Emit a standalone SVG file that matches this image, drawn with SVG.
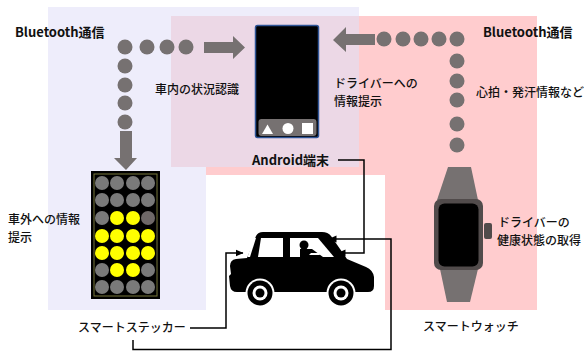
<svg xmlns="http://www.w3.org/2000/svg" width="584" height="351" viewBox="0 0 584 351">
  <style>
    .lbl { font-family: "Noto Sans CJK JP", "Noto Sans", sans-serif; font-size: 12px; fill: #111; font-weight: 500; }
    .bold { font-family: "Noto Sans CJK JP", "Noto Sans", sans-serif; font-size: 13px; fill: #111; font-weight: bold; }
    .dot { fill: #767171; }
    .gray { fill: #767171; }
    .conn { fill: none; stroke: #000; stroke-width: 1.5; }
    .led-off { fill: #7a7a7a; }
    .led-on { fill: #ffff00; }
  </style>
  <defs>
    <marker id="arrow" markerUnits="userSpaceOnUse" markerWidth="8" markerHeight="8" viewBox="0 0 8 8" refX="7.5" refY="4" orient="auto">
      <path d="M0,0.5 L8,4 L0,7.5 Z" fill="#000"/>
    </marker>
  </defs>

  <!-- background zones -->
  <g id="zones">
    <rect width="584" height="351" fill="#fff"/>
    <path d="M48,7 H359 V167 H206 V310 H48 Z" fill="#eeedfb"/>
    <path d="M171,16 H537 V310 H206 V167 H171 Z" fill="#ffccce"/>
    <rect x="171" y="16" width="188" height="151" fill="#ecd8e6"/>
    <rect x="206" y="175" width="179" height="176" fill="#fff"/>
  </g>

  <!-- Bluetooth link: sticker side -->
  <g id="link-left">
    <circle class="dot" cx="125" cy="47" r="7.5"/>
    <circle class="dot" cx="147" cy="47" r="7.5"/>
    <circle class="dot" cx="167" cy="47" r="7.5"/>
    <circle class="dot" cx="186" cy="47" r="7.5"/>
    <circle class="dot" cx="125" cy="66" r="7.5"/>
    <circle class="dot" cx="125" cy="85" r="7.5"/>
    <circle class="dot" cx="125" cy="103" r="7.5"/>
    <circle class="dot" cx="125" cy="122" r="7.5"/>
    <path class="gray" d="M204,42 H233 V36 L245,47.5 L233,59 V53 H204 Z"/>
    <path class="gray" d="M120,131 H132 V158 H137 L126,170 L114,158 H120 Z"/>
    <text class="bold" x="15" y="37">Bluetooth通信</text>
    <text class="lbl" x="155" y="94">車内の状況認識</text>
  </g>

  <!-- Bluetooth link: watch side -->
  <g id="link-right">
    <circle class="dot" cx="384" cy="39" r="7.5"/>
    <circle class="dot" cx="403" cy="39" r="7.5"/>
    <circle class="dot" cx="421" cy="39" r="7.5"/>
    <circle class="dot" cx="439" cy="39" r="7.5"/>
    <circle class="dot" cx="457" cy="39" r="7.5"/>
    <circle class="dot" cx="457" cy="61" r="7.5"/>
    <circle class="dot" cx="457" cy="81" r="7.5"/>
    <circle class="dot" cx="457" cy="100" r="7.5"/>
    <circle class="dot" cx="457" cy="124" r="7.5"/>
    <circle class="dot" cx="457" cy="145" r="7.5"/>
    <path class="gray" d="M375,34 H346 V27 L333,40 L346,52 V45 H375 Z"/>
    <text class="bold" x="483" y="37">Bluetooth通信</text>
    <text class="lbl" x="476" y="97">心拍・発汗情報など</text>
  </g>

  <!-- Android device -->
  <g id="android">
    <rect x="255.5" y="25.5" width="63" height="112" rx="2" fill="#000" stroke="#2f5597" stroke-width="1.5"/>
    <rect x="258.5" y="119" width="58" height="17" rx="3" fill="#767171"/>
    <path d="M262,134 L267.5,124.5 L273,134 Z" fill="#fff"/>
    <circle cx="288" cy="128.5" r="5.5" fill="#fff"/>
    <rect x="302" y="123" width="11" height="11" fill="#fff"/>
    <text class="bold" x="252" y="165">Android端末</text>
    <text class="lbl" x="334" y="87.5">ドライバーへの</text>
    <text class="lbl" x="334" y="105.5">情報提示</text>
  </g>

  <!-- smart sticker -->
  <g id="sticker">
    <rect x="91" y="171" width="69" height="128" fill="#000"/>
    <rect x="94" y="174" width="63" height="122" fill="none" stroke="#77773a" stroke-width="1"/>
    <g>
      <circle class="led-off" cx="102" cy="183" r="7"/><circle class="led-off" cx="117" cy="183" r="7"/><circle class="led-off" cx="133" cy="183" r="7"/><circle class="led-off" cx="148" cy="183" r="7"/>
      <circle class="led-off" cx="102" cy="200" r="7"/><circle class="led-off" cx="117" cy="200" r="7"/><circle class="led-off" cx="133" cy="200" r="7"/><circle class="led-off" cx="148" cy="200" r="7"/>
      <circle class="led-off" cx="102" cy="218" r="7"/><circle class="led-on" cx="117" cy="218" r="7"/><circle class="led-on" cx="133" cy="218" r="7"/><circle fill="#6e6868" cx="148" cy="218" r="7"/>
      <circle class="led-on" cx="102" cy="236" r="7"/><circle class="led-on" cx="117" cy="236" r="7"/><circle class="led-on" cx="133" cy="236" r="7"/><circle class="led-on" cx="148" cy="236" r="7"/>
      <circle class="led-on" cx="102" cy="253" r="7"/><circle class="led-on" cx="117" cy="253" r="7"/><circle class="led-on" cx="133" cy="253" r="7"/><circle class="led-on" cx="148" cy="253" r="7"/>
      <circle class="led-off" cx="102" cy="270" r="7"/><circle class="led-on" cx="117" cy="270" r="7"/><circle class="led-on" cx="133" cy="270" r="7"/><circle class="led-off" cx="148" cy="270" r="7"/>
      <circle class="led-off" cx="102" cy="287" r="7"/><circle class="led-off" cx="117" cy="287" r="7"/><circle class="led-off" cx="133" cy="287" r="7"/><circle class="led-off" cx="148" cy="287" r="7"/>
    </g>
    <text class="lbl" x="8" y="224">車外への情報</text>
    <text class="lbl" x="8" y="242">提示</text>
    <text class="lbl" x="78" y="332">スマートステッカー</text>
  </g>

  <!-- smart watch -->
  <g id="watch">
    <path class="gray" d="M448,167 H471 L478,200 H437 Z"/>
    <path class="gray" d="M440,269 H478 L470,302 H447 Z"/>
    <rect x="484" y="223" width="8" height="16" rx="2" fill="#514b4b"/>
    <rect x="434" y="199" width="49" height="71" rx="7" fill="#514b4b"/>
    <rect x="438.5" y="203.5" width="40" height="63" rx="6" fill="#000"/>
    <text class="lbl" x="498" y="227">ドライバーの</text>
    <text class="lbl" x="497" y="245">健康状態の取得</text>
    <text class="lbl" x="423" y="331">スマートウォッチ</text>
  </g>

  <!-- car -->
  <g id="car">
    <path d="M236,259 Q230,260 230,266 L231,274 L229,276 L230,286 Q231,292 237,292 L368,292 Q374,292 374,286 L374,277 Q373,270 366,267 L347,259 L331,236 Q328,232 322,232 L263,232 Q258,232 256,236 L247,258 Z" fill="#000"/>
    <path d="M253.5,238 L256,238 L250,257 L247.5,257 Z" fill="#fff"/>
    <path d="M261,238 L283,238 L283,257 L258,257 Z" fill="#fff"/>
    <path d="M290,238 L318,238 L334,257 L290,257 Z" fill="#fff"/>
    <circle cx="304" cy="245" r="4.5" fill="#000"/>
    <path d="M300,249 L312,249 L323,257 L300,257 Z" fill="#000"/>
    <path d="M311,253 L319,253 L320,255 L309,255 Z" fill="#fff"/>
    <circle cx="260" cy="293" r="14.5" fill="#fff"/>
    <circle cx="260" cy="293" r="12.5" fill="#000"/>
    <circle cx="260" cy="293" r="7.5" fill="#fff"/>
    <circle cx="260" cy="293" r="4.5" fill="#000"/>
    <circle cx="341" cy="293" r="14.5" fill="#fff"/>
    <circle cx="341" cy="293" r="12.5" fill="#000"/>
    <circle cx="341" cy="293" r="7.5" fill="#fff"/>
    <circle cx="341" cy="293" r="4.5" fill="#000"/>
  </g>

  <!-- connectors -->
  <g id="connectors">
    <path class="conn" d="M338,160 H364 V253 H338" marker-end="url(#arrow)"/>
    <path class="conn" d="M190,328 H226 V253 H243" marker-end="url(#arrow)"/>
    <path class="conn" d="M133,340 V349.5 H391 V239 H329" marker-end="url(#arrow)"/>
  </g>
</svg>
